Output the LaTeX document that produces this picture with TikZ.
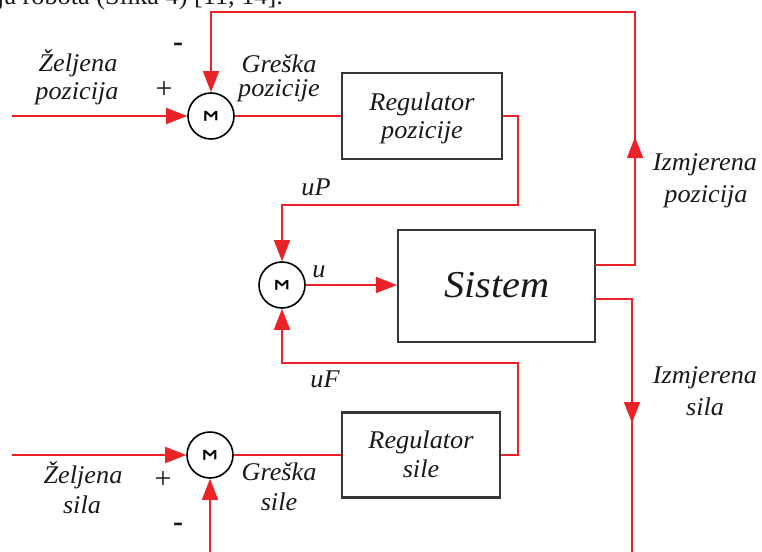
\documentclass[tikz,border=0pt]{standalone}
\usepackage{fontspec}
\setmainfont{Liberation Serif}
\newfontfamily\sigf{Liberation Sans}
\usetikzlibrary{arrows.meta}
\definecolor{lred}{RGB}{235,35,40}
\definecolor{boxc}{RGB}{55,55,55}
\definecolor{txt}{RGB}{25,25,25}
\begin{document}
\begin{tikzpicture}[x=1pt,y=-1pt,
  wire/.style={draw=lred,line width=1.6pt},
  arr/.style={wire,-{Triangle[length=21pt,width=16pt]}},
  blk/.style={draw=boxc,line width=2.2pt,fill=white,inner sep=0pt},
  sumc/.style={circle,draw=black,line width=1.6pt,minimum size=46pt,inner sep=0pt,fill=white},
  sig/.style={font=\sigf\bfseries\fontsize{19}{19}\selectfont},
  lbl/.style={font=\fontsize{25.5}{29}\selectfont\itshape,text=txt,xscale=1.03,inner sep=0pt,anchor=base},
  sgn/.style={font=\fontsize{30}{30}\selectfont,text=txt,inner sep=0pt},
]
\path[use as bounding box] (0,0) rectangle (762,551);
\clip (0,0) rectangle (762,551);

% caption fragment at top
\node[anchor=base west,font=\fontsize{25.5}{25}\selectfont,xscale=1.03,text=txt,inner sep=0pt] (cap) at (-3,5) {ja robota (Slika 4) [11, 14].};

% blocks
\node[blk,minimum width=160pt,minimum height=86pt] (b1) at (422,116) {};
\node[blk,minimum width=158pt,minimum height=85pt] (b2) at (421,455) {};
\node[blk,minimum width=197pt,minimum height=112pt] (sys) at (496.5,286) {};

% summing junctions
\node[sumc] (s1) at (211,116) {\rotatebox{-90}{\sigf\bfseries\fontsize{19}{19}\selectfont Σ}};
\node[sumc] (s2) at (282,285) {\rotatebox{-90}{\sigf\bfseries\fontsize{19}{19}\selectfont Σ}};
\node[sumc] (s3) at (210,455) {\rotatebox{-90}{\sigf\bfseries\fontsize{19}{19}\selectfont Σ}};

% helper coordinates
\coordinate (in1) at (12,116);
\coordinate (in3) at (12,455);
\coordinate (o1) at (595,265);
\coordinate (o2) at (595,299);
\coordinate (tr) at (635,12);
\coordinate (tl) at (211,12);
\coordinate (r1) at (635,265);
\coordinate (ua) at (635,160);
\coordinate (ub) at (635,137);
\coordinate (r2) at (632,299);
\coordinate (br) at (632,560);
\coordinate (da) at (632,400);
\coordinate (db) at (632,423);
\coordinate (bl) at (210,560);
\coordinate (p1) at (518,116);
\coordinate (p2) at (518,205);
\coordinate (p3) at (282,205);
\coordinate (f1) at (518,455);
\coordinate (f2) at (518,363);
\coordinate (f3) at (282,363);

% connectors
\draw[arr] (in1) -- (s1.west);
\draw[wire] (s1.east) -- (b1.west);
\draw[arr] (b1.east) -- (p1) -- (p2) -- (p3) -- (s2.north);
\draw[arr] (s2.east) -- (s2.east -| sys.west);
\draw[arr] (o1) -- (r1) -- (tr) -- (tl) -- (s1.north);
\draw[arr] (ua) -- (ub);
\draw[wire] (o2) -- (r2) -- (br);
\draw[arr] (da) -- (db);
\draw[arr] (bl) -- (s3.south);
\draw[arr] (in3) -- (s3.west);
\draw[wire] (s3.east) -- (b2.west);
\draw[arr] (b2.east) -- (f1) -- (f2) -- (f3) -- (s2.south);

% block texts
\node[lbl] (t1a) at (422,110) {Regulator};
\node[lbl] (t1b) at (422,138) {pozicije};
\node[lbl] (t2a) at (421,448) {Regulator};
\node[lbl] (t2b) at (421,477) {sile};
\node[lbl,font=\fontsize{38}{38}\selectfont\itshape,xscale=1.03] (t3) at (497,297) {Sistem};

% labels
\node[lbl] (lz1) at (78,71) {Željena};
\node[lbl] (lz2) at (77,99) {pozicija};
\node[lbl] (lg1) at (279,72) {Greška};
\node[lbl] (lg2) at (279,96) {pozicije};
\node[lbl] (lup) at (316,195) {uP};
\node[lbl] (lu) at (319,277) {u};
\node[lbl] (luf) at (325,387) {uF};
\node[lbl] (ls1) at (83,483) {Željena};
\node[lbl] (ls2) at (82,513) {sila};
\node[lbl] (lgs1) at (279,480) {Greška};
\node[lbl] (lgs2) at (279,510) {sile};
\node[lbl] (li1) at (705,170) {Izmjerena};
\node[lbl] (li2) at (706,202) {pozicija};
\node[lbl] (li3) at (705,383) {Izmjerena};
\node[lbl] (li4) at (705,415) {sila};

% signs
\node[sgn] (pl1) at (164,90) {+};
\node[sgn] (mi1) at (178,47) {\textbf{-}};
\node[sgn] (pl3) at (163,480) {+};
\node[sgn] (mi3) at (178,527) {\textbf{-}};
\end{tikzpicture}
\end{document}
